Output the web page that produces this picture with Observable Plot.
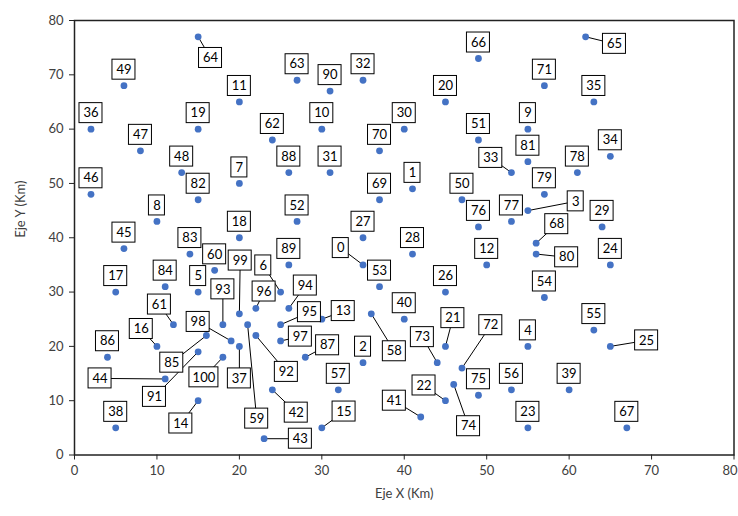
<!DOCTYPE html>
<html><head><meta charset="utf-8">
<script src="https://cdn.jsdelivr.net/npm/d3@7"></script>
<script src="https://cdn.jsdelivr.net/npm/@observablehq/plot@0.6"></script>
<style>body{margin:0;background:#fff}</style>
</head><body><div id="chart"></div>
<script>
// Coordinates of points 0..100 (Km)
const pointX = [35,41,35,55,55,15,25,20,10,55, 30,20,50,30,15,30,10,5,20,15, 45,45,45,55,65,65,45,35,41,64,
  40,31,35,53,65,63,2,20,5,60, 40,42,24,23,11,6,2,8,13,6, 47,49,27,37,57,63,53,32,36,21,
  17,12,24,27,15,62,49,67,56,37, 37,57,47,44,46,49,49,53,61,57, 56,55,15,14,11,16,4,28,26,26,
  31,15,22,18,26,25,22,25,19,20, 18];
const pointY = [35,49,17,45,20,30,30,50,43,60, 60,65,35,25,10,5,20,30,40,60, 65,20,10,5,35,20,30,40,37,42,
  60,52,69,52,55,65,60,20,5,12, 25,7,12,3,14,38,48,56,52,68, 47,58,43,31,29,23,12,12,26,24,
  34,24,58,69,77,77,73,5,39,47, 56,68,16,17,13,11,42,43,52,48, 37,54,47,37,31,22,18,18,52,35,
  67,19,22,24,27,24,27,21,21,26, 18];
// Labels placed away from their point (connected with a leader line), label centre in Km
const leaderIds = [0,3,6,13,14,15,16,21,22,25,33,37,41,42,43,44,58,59,61,64,65,68,72,73,74,80,85,87,91,92,93,94,95,96,97,98,99,100];
const leaderX = [32.3,60.8,22.9,32.6,12.9,32.7,8.1,45.9,42.4,69.4,50.5,20.0,38.8,26.9,27.4,3.1,38.8,22.1,10.3,16.5,65.5,58.5,50.5,42.2,47.8,59.7,11.8,30.7,9.7,25.7,18.0,28.0,28.5,23.0,27.4,15.0,20.1,15.7];
const leaderY = [38.1,46.7,34.9,26.5,5.8,8.0,23.2,25.2,12.8,21.1,54.7,14.1,10.0,7.8,3.0,14.1,19.1,6.7,27.7,73.1,75.7,42.5,23.9,21.7,5.3,36.4,17.0,20.2,10.7,15.3,30.5,31.2,26.3,30.1,21.8,24.5,35.8,14.3];
const xTicks = [0,10,20,30,40,50,60,70,80];
const yTicks = [0,10,20,30,40,50,60,70,80];
const xTitle = "Eje X (Km)";
const yTitle = "Eje Y (Km)";

const lmap = new Map(leaderIds.map((id, k) => [id, [leaderX[k], leaderY[k]]]));
const points = pointX.map((x, i) => {
  const l = lmap.get(i);
  return {id: i, label: String(i), x, y: pointY[i], leader: !!l, lx: l ? l[0] : x, ly: l ? l[1] : pointY[i]};
});
const leaders = points.filter(d => d.leader);
const plain = points.filter(d => !d.leader);
const lastX = xTicks[xTicks.length - 1];

const BOX_W = {1: 16, 2: 23, 3: 29};
const BOX_H = 20;
function boxes(data, dy) {
  return [1, 2, 3].map(n => Plot.rect(data.filter(d => d.label.length === n), {
    x1: "lx", x2: "lx", y1: "ly", y2: "ly", dy,
    insetLeft: -BOX_W[n] / 2, insetRight: -BOX_W[n] / 2,
    insetTop: -BOX_H / 2, insetBottom: -BOX_H / 2,
    fill: "white", stroke: "black", strokeWidth: 1
  }));
}
const labelFont = {fontSize: 13, fill: "black"};

const chart = Plot.plot({
  width: 738, height: 516,
  marginLeft: 74, marginRight: 4.5, marginTop: 20, marginBottom: 61.5,
  style: {fontFamily: "Lato, 'Open Sans', sans-serif", color: "#404040", background: "white"},
  x: {domain: [0, 80], label: null},
  y: {domain: [0, 80], label: null},
  marks: [
    Plot.link(leaders, {x1: "lx", y1: "ly", x2: "x", y2: "y", stroke: "black", strokeWidth: 1}),
    Plot.dot(points, {x: "x", y: "y", r: 3.4, fill: "#4472C4"}),
    ...boxes(plain, -16),
    ...boxes(leaders, 0),
    Plot.text(plain, {x: "lx", y: "ly", text: "label", dy: -16, ...labelFont}),
    Plot.text(leaders, {x: "lx", y: "ly", text: "label", ...labelFont}),
    Plot.axisX(xTicks, {tickSize: 5, tickPadding: 6, fontSize: 13, label: null, stroke: "#222",
      tickFormat: d => d === lastX ? "" : String(d)}),
    Plot.text([lastX], {x: d => d, frameAnchor: "bottom", lineAnchor: "top", dy: 11, dx: -4, fontSize: 13, fill: "#404040"}),
    Plot.axisY(yTicks, {tickSize: 5, tickPadding: 6, fontSize: 13, label: null, stroke: "#222"}),
    Plot.frame({stroke: "#222", strokeWidth: 1.5}),
    Plot.text([xTitle], {frameAnchor: "bottom", dy: 43, fontSize: 13, fill: "#404040"}),
    Plot.text([yTitle], {frameAnchor: "left", dx: -54, rotate: -90, fontSize: 13, fill: "#404040"})
  ]
});
document.getElementById("chart").appendChild(chart);
</script>
</body></html>
